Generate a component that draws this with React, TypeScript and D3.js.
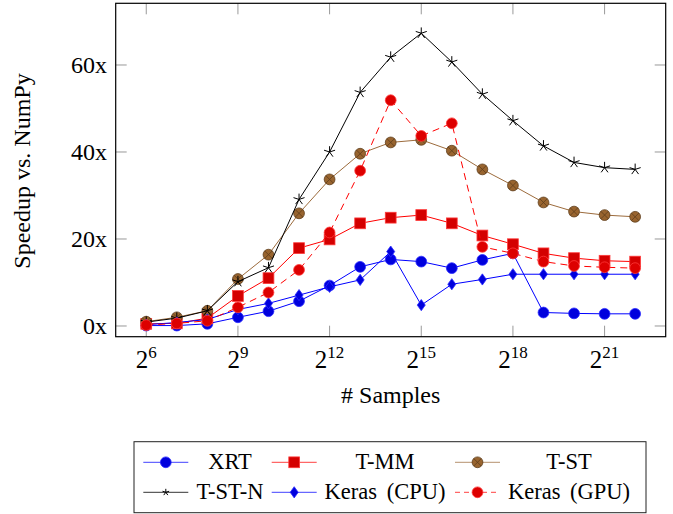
import React from "react";
import * as d3 from "d3";

const exponents = [6, 7, 8, 9, 10, 11, 12, 13, 14, 15, 16, 17, 18, 19, 20, 21, 22];
const xTickExps = [6, 9, 12, 15, 18, 21];
const yTicks = [0, 20, 40, 60];

const xrt = [0.1, 0.1, 0.5, 2.0, 3.4, 5.7, 9.3, 13.6, 15.3, 14.8, 13.3, 15.2, 16.7, 3.1, 2.9, 2.8, 2.8];
const tmm = [0.5, 0.6, 1.8, 6.9, 11.0, 17.9, 19.9, 23.6, 24.9, 25.5, 23.6, 20.8, 18.8, 16.7, 15.6, 15.0, 14.8];
const tst = [1.0, 2.0, 3.5, 10.8, 16.4, 25.9, 33.7, 39.6, 42.2, 42.8, 40.3, 36.0, 32.3, 28.4, 26.3, 25.5, 25.1];
const tstn = [0.9, 1.8, 3.5, 10.2, 13.4, 29.1, 40.0, 53.7, 61.8, 67.3, 60.7, 53.3, 47.2, 41.4, 37.6, 36.4, 36.0];
const kerasCpu = [0.3, 0.8, 1.5, 3.8, 5.2, 7.1, 9.0, 10.6, 17.1, 4.8, 9.6, 10.7, 11.9, 11.9, 11.9, 11.9, 11.9];
const kerasGpu = [0.2, 0.6, 1.2, 4.3, 7.7, 12.9, 21.5, 35.7, 51.9, 43.7, 46.6, 18.2, 16.7, 14.8, 13.8, 13.5, 13.3];

type Mark = "circle" | "square" | "otimes" | "star" | "diamond";
interface Series {
  name: string;
  values: number[];
  line: string;
  fill: string;
  mstroke: string;
  mark: Mark;
  dash?: string;
}

const series: Series[] = [
  { name: "XRT", values: xrt, line: "#0000ff", fill: "#0000dd", mstroke: "#2a2aff", mark: "circle" },
  { name: "T-MM", values: tmm, line: "#ff0000", fill: "#d40000", mstroke: "#ff3a3a", mark: "square" },
  { name: "T-ST", values: tst, line: "#9c6b3c", fill: "#98642f", mstroke: "#5e3d1c", mark: "otimes" },
  { name: "T-ST-N", values: tstn, line: "#000000", fill: "none", mstroke: "#000000", mark: "star" },
  { name: "Keras (CPU)", values: kerasCpu, line: "#0000ff", fill: "#0000dd", mstroke: "#2a2aff", mark: "diamond" },
  { name: "Keras (GPU)", values: kerasGpu, line: "#ff0000", fill: "#dd0000", mstroke: "#ff3a3a", mark: "circle", dash: "7,5" },
];

const L = 115.7, R = 665.7, T = 3.3, B = 336.7;
const x = d3.scaleLog().base(2).domain([2 ** 5, 2 ** 23]).range([L, R]);
const y = d3.scaleLinear().domain([-2.46, 74.18]).range([B, T]);

const FONT = '"Liberation Serif", "Times New Roman", Times, "DejaVu Serif", serif';
const tStyle: React.CSSProperties = { fontFamily: FONT };

function Marker({ s, cx, cy, scale = 1 }: { s: Series; cx: number; cy: number; scale?: number }) {
  const k = scale;
  switch (s.mark) {
    case "circle":
      return <circle cx={cx} cy={cy} r={5.4 * k} fill={s.fill} stroke={s.mstroke} strokeWidth={0.8} />;
    case "square":
      return <rect x={cx - 5.4 * k} y={cy - 5.4 * k} width={10.8 * k} height={10.8 * k} fill={s.fill} stroke={s.mstroke} strokeWidth={0.8} />;
    case "otimes": {
      const r = 5.4 * k;
      const d = r * Math.SQRT1_2;
      return (
        <g>
          <circle cx={cx} cy={cy} r={r} fill={s.fill} stroke={s.mstroke} strokeWidth={0.8} />
          <path d={`M${cx - d},${cy - d}L${cx + d},${cy + d}M${cx - d},${cy + d}L${cx + d},${cy - d}`} stroke={s.mstroke} strokeWidth={0.8} />
        </g>
      );
    }
    case "star": {
      const r = 5.8 * k;
      let p = "";
      for (let i = 0; i < 5; i++) {
        const a = -Math.PI / 2 + (i * 2 * Math.PI) / 5;
        p += `M${cx},${cy}L${cx + r * Math.cos(a)},${cy + r * Math.sin(a)}`;
      }
      return <path d={p} stroke="#000" strokeWidth={1} fill="none" />;
    }
    case "diamond": {
      const w = 4 * k, h = 5.6 * k;
      return <path d={`M${cx},${cy - h}L${cx + w},${cy}L${cx},${cy + h}L${cx - w},${cy}Z`} fill={s.fill} stroke={s.mstroke} strokeWidth={0.8} />;
    }
  }
  return null;
}

export default function App() {
  const line = d3
    .line<number>()
    .x((_, i) => x(2 ** exponents[i]))
    .y((v) => y(v));

  const legendCols = [
    { lx0: 143.3, lx1: 188.3, tc: 230 },
    { lx0: 271.7, lx1: 316.7, tc: 385 },
    { lx0: 455, lx1: 500, tc: 569 },
  ];
  const legendRows = [462.3, 492.3];

  return (
    <svg width={673} height={514} style={{ position: "absolute", left: 0, top: 0, background: "#fff", fontFamily: FONT }}>
      <rect x={0} y={0} width={673} height={514} fill="#fff" />
      {xTickExps.map((e) => {
        const px = x(2 ** e);
        return (
          <g key={"xt" + e}>
            <line x1={px} x2={px} y1={B} y2={B - 11} stroke="#999" strokeWidth={1} />
            <line x1={px} x2={px} y1={T} y2={T + 11} stroke="#999" strokeWidth={1} />
            <text x={px} y={368} textAnchor="middle" fontSize={25} fill="#000" style={tStyle}>
              2<tspan fontSize={17} dy={-10}>{e}</tspan>
            </text>
          </g>
        );
      })}
      {yTicks.map((v) => {
        const py = y(v);
        return (
          <g key={"yt" + v}>
            <line x1={L} x2={L + 11} y1={py} y2={py} stroke="#999" strokeWidth={1} />
            <line x1={R} x2={R - 11} y1={py} y2={py} stroke="#999" strokeWidth={1} />
            <text x={107} y={py + 8.5} textAnchor="end" fontSize={24} fill="#000" style={tStyle}>
              {v}x
            </text>
          </g>
        );
      })}
      {series.map((s) => (
        <g key={s.name}>
          <path d={line(s.values) || ""} fill="none" stroke={s.line} strokeWidth={1} strokeDasharray={s.dash} />
          {s.values.map((v, i) => (
            <Marker key={i} s={s} cx={x(2 ** exponents[i])} cy={y(v)} />
          ))}
        </g>
      ))}
      <rect x={L} y={T} width={R - L} height={B - T} fill="none" stroke="#000" strokeWidth={1.2} />
      <text x={390.7} y={403} textAnchor="middle" fontSize={24} fill="#000" style={tStyle}>
        # Samples
      </text>
      <text transform="translate(30,171) rotate(-90)" textAnchor="middle" fontSize={24} fill="#000" style={tStyle}>
        Speedup vs. NumPy
      </text>
      <rect x={134} y={441.7} width={512} height={71} fill="#fff" stroke="#222" strokeWidth={1} />
      {series.map((s, i) => {
        const c = legendCols[i % 3];
        const ry = legendRows[Math.floor(i / 3)];
        const mx = (c.lx0 + c.lx1) / 2;
        return (
          <g key={"lg" + s.name}>
            <line x1={c.lx0} x2={c.lx1} y1={ry} y2={ry} stroke={s.line} strokeOpacity={s.line === "#000000" ? 0.8 : 0.75} strokeWidth={1} strokeDasharray={s.dash ? "5,4" : undefined} />
            <Marker s={s} cx={mx} cy={ry} scale={s.mark === "star" ? 0.6 : 1} />
            <text x={c.tc} y={ry + 6.5} textAnchor="middle" fontSize={22.5} fill="#000" style={{ ...tStyle, wordSpacing: "4px" }}>
              {s.name}
            </text>
          </g>
        );
      })}
    </svg>
  );
}
